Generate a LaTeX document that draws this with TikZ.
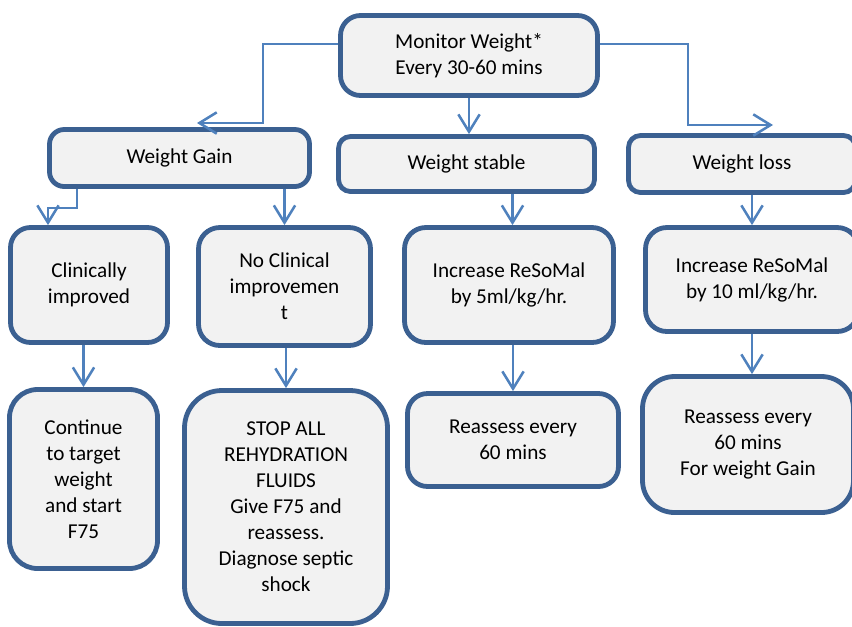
\documentclass[tikz,border=0pt]{standalone}
\usepackage{fontspec}
\setmainfont{Carlito}
\usetikzlibrary{positioning}
\usetikzlibrary{arrows.meta}
\definecolor{boxblue}{RGB}{59,96,145}
\definecolor{boxgray}{RGB}{242,242,242}
\definecolor{linkblue}{RGB}{79,129,189}
\tikzset{
  flowbox/.style={draw=boxblue,fill=boxgray,line width=3.6pt,rounded corners=#1,
    align=center,inner sep=0pt,font=\fontsize{15.9pt}{19.5pt}\selectfont},
  flowbox/.default=10pt,
  link/.style={draw=linkblue,line width=1.9pt,-{Straight Barb[length=13pt,width=16pt]}}
}
\begin{document}
\begin{tikzpicture}[x=0.75pt,y=-0.75pt]
  \useasboundingbox (0,0) rectangle (852,626);
  \node(monitor)[flowbox=15pt,minimum width=192.75pt,minimum height=60pt] at (469,55.5){Monitor Weight*\\Every 30-60 mins};
  \node(gain)[flowbox=11pt,minimum width=195pt,minimum height=42.75pt] at (179.5,158){Weight Gain};
  \node(stable)[flowbox=9pt,minimum width=192pt,minimum height=41.25pt] at (466.5,164){Weight stable};
  \node(loss)[flowbox=9pt,minimum width=170.25pt,minimum height=42.75pt] at (742,164){Weight loss};
  \node(clin)[flowbox=15pt,minimum width=117.75pt,minimum height=86.25pt] at (89,285){Clinically\\improved};
  \node(noclin)[flowbox=16pt,minimum width=129pt,minimum height=88.5pt] at (284.5,286.5){No Clinical\\improvemen\\t};
  \node(inc5)[flowbox=16pt,minimum width=156.75pt,minimum height=86.25pt] at (509,285){Increase ReSoMal\\by 5ml/kg/hr.};
  \node(inc10)[flowbox=16pt,minimum width=159.75pt,minimum height=78pt] at (752,279.5){Increase ReSoMal\\by 10 ml/kg/hr.};
  \node(cont)[flowbox=21pt,minimum width=111pt,minimum height=134.25pt] at (83.5,479){Continue\\to target\\weight\\and start\\F75};
  \node(stop)[flowbox=28pt,minimum width=152.25pt,minimum height=174.75pt] at (286,507){STOP ALL\\REHYDRATION\\FLUIDS\\Give F75 and\\reassess.\\Diagnose septic\\shock};
  \node(re5)[flowbox=15pt,minimum width=158.25pt,minimum height=69.75pt] at (513,440){Reassess every\\60 mins};
  \node(re10)[flowbox=24pt,minimum width=158.25pt,minimum height=102pt] at (748,444.5){Reassess every\\60 mins\\For weight Gain};
  \coordinate(gaintip) at (197,123);
  \coordinate(losstip) at (773,125);
\draw[link]([yshift=8.6pt]monitor.west) -- ++(-75,0) |- (gaintip);
\draw[link]([yshift=8.6pt]monitor.east) -- ++(88,0) |- (losstip);
\draw[link](monitor.south) -- (monitor.south |- stable.north);
\draw[link]([xshift=-76.9pt]gain.south) -- ++(0,19) -| ([xshift=-30.75pt]clin.north);
\draw[link](noclin.north |- gain.south) -- (noclin.north);
\draw[link]([xshift=34.5pt]stable.south) -- ([xshift=34.5pt]stable.south |- inc5.north);
\draw[link](inc10.north |- loss.south) -- (inc10.north);
\draw[link](cont.north |- clin.south) -- (cont.north);
\draw[link](stop.north |- noclin.south) -- (stop.north);
\draw[link](re5.north |- inc5.south) -- (re5.north);
\draw[link](inc10.south) -- (inc10.south |- re10.north);
\end{tikzpicture}
\end{document}
